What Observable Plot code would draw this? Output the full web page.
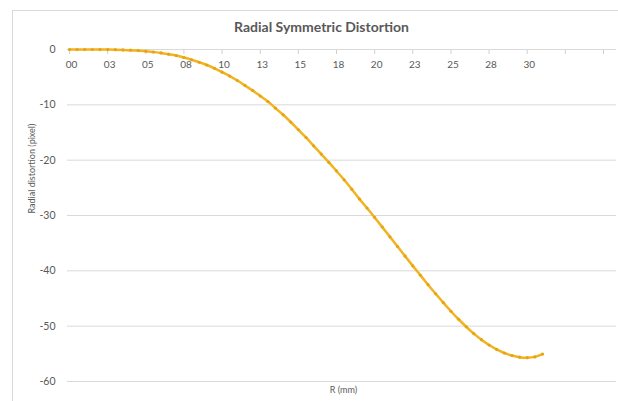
<!DOCTYPE html>
<html>
<head>
<meta charset="utf-8">
<script src="https://cdn.jsdelivr.net/npm/d3@7"></script>
<script src="https://cdn.jsdelivr.net/npm/@observablehq/plot@0.6"></script>
<style>
  html, body { margin: 0; padding: 0; background: #fff; }
  #wrap { position: relative; width: 618px; height: 401px; overflow: hidden; }
  #border { position: absolute; left: 12px; top: 10px; width: 640px; height: 420px; border: 1px solid #d9d9d9; box-sizing: border-box; }
  #chart { position: absolute; left: 0; top: 0; }
</style>
</head>
<body>
<div id="wrap"><div id="border"></div><div id="chart"></div></div>
<script>
const title = "Radial Symmetric Distortion";
const xLabel = "R (mm)";
const yLabel = "Radial distortion (pixel)";

const R = [0, 0.5, 1, 1.5, 2, 2.5, 3, 3.5, 4, 4.5, 5, 5.5, 6, 6.5, 7, 7.5, 8, 8.5, 9, 9.5,
  10, 10.5, 11, 11.5, 12, 12.5, 13, 13.5, 14, 14.5, 15, 15.5, 16, 16.5, 17, 17.5, 18, 18.5, 19, 19.5,
  20, 20.5, 21, 21.5, 22, 22.5, 23, 23.5, 24, 24.5, 25, 25.5, 26, 26.5, 27, 27.5, 28, 28.5, 29, 29.5,
  30, 30.5, 31];
const distortion = [0, 0, 0, 0, -0.01, -0.02, -0.04, -0.07, -0.12, -0.2, -0.3, -0.45, -0.62, -0.85, -1.1, -1.45, -1.85, -2.3, -2.8, -3.4,
  -4.1, -4.8, -5.6, -6.5, -7.4, -8.4, -9.4, -10.6, -11.8, -13.1, -14.5, -15.9, -17.4, -18.9, -20.4, -21.95, -23.55, -25.25, -27.0, -28.65,
  -30.35, -32.1, -33.85, -35.6, -37.35, -39.1, -40.8, -42.5, -44.15, -45.75, -47.3, -48.75, -50.1, -51.35, -52.45, -53.4, -54.2, -54.85, -55.3, -55.6,
  -55.7, -55.55, -55.05];

const xTickValues = [0, 2.5, 5, 7.5, 10, 12.5, 15, 17.5, 20, 22.5, 25, 27.5, 30, 32.5, 35];
const xTickLabels = ["00", "03", "05", "08", "10", "13", "15", "18", "20", "23", "25", "28", "30", "", ""];
const yTickValues = [0, -10, -20, -30, -40, -50, -60];

const points = R.map((r, i) => ({r, d: distortion[i]}));
const xTicks = xTickValues.map((v, i) => ({v, label: xTickLabels[i]}));

const gray = "#595959";
const lineColor = "#f2b320";

const chart = Plot.plot({
  width: 618,
  height: 401,
  marginLeft: 69,
  marginRight: 15,
  marginTop: 49,
  marginBottom: 20,
  style: {fontFamily: "Lato, 'Open Sans', sans-serif", background: "transparent", overflow: "visible"},
  x: {domain: [0, 35], axis: null},
  y: {domain: [-60, 0], axis: null},
  marks: [
    Plot.ruleY(yTickValues.filter(v => v !== 0), {y: d => d, stroke: "#d9d9d9", strokeWidth: 1, insetLeft: -2, insetRight: -13}),
    Plot.ruleY([0], {stroke: "#d9d9d9", strokeWidth: 1, insetLeft: -2, insetRight: -13}),
    Plot.axisX({anchor: "top", ticks: xTickValues, tickSize: -4, tickFormat: () => "", stroke: "#d0d0d0"}),
    Plot.text(xTicks, {x: "v", text: "label", frameAnchor: "top", lineAnchor: "middle", dy: 15, dx: 2, fill: gray, fontSize: 10}),
    Plot.text(yTickValues, {y: d => d, text: d => String(d), frameAnchor: "left", textAnchor: "end", dx: -14, fill: gray, fontSize: 10.5}),
    Plot.line(points, {x: "r", y: "d", stroke: lineColor, strokeWidth: 2.5, curve: "catmull-rom"}),
    Plot.dot(points, {x: "r", y: "d", r: 1.6, fill: "#e3a514", stroke: null}),
    Plot.text([title], {frameAnchor: "top", lineAnchor: "middle", dy: -22, dx: -15, text: d => d, fontWeight: "bold", fontSize: 14, fill: gray}),
    Plot.text([yLabel], {frameAnchor: "left", rotate: -90, dx: -37, dy: -2, text: d => d, fontSize: 9, fill: gray}),
    Plot.text([xLabel], {frameAnchor: "bottom", lineAnchor: "middle", dy: 9, dx: 7, text: d => d, fontSize: 9, fill: gray})
  ]
});
document.getElementById("chart").appendChild(chart);
</script>
</body>
</html>
